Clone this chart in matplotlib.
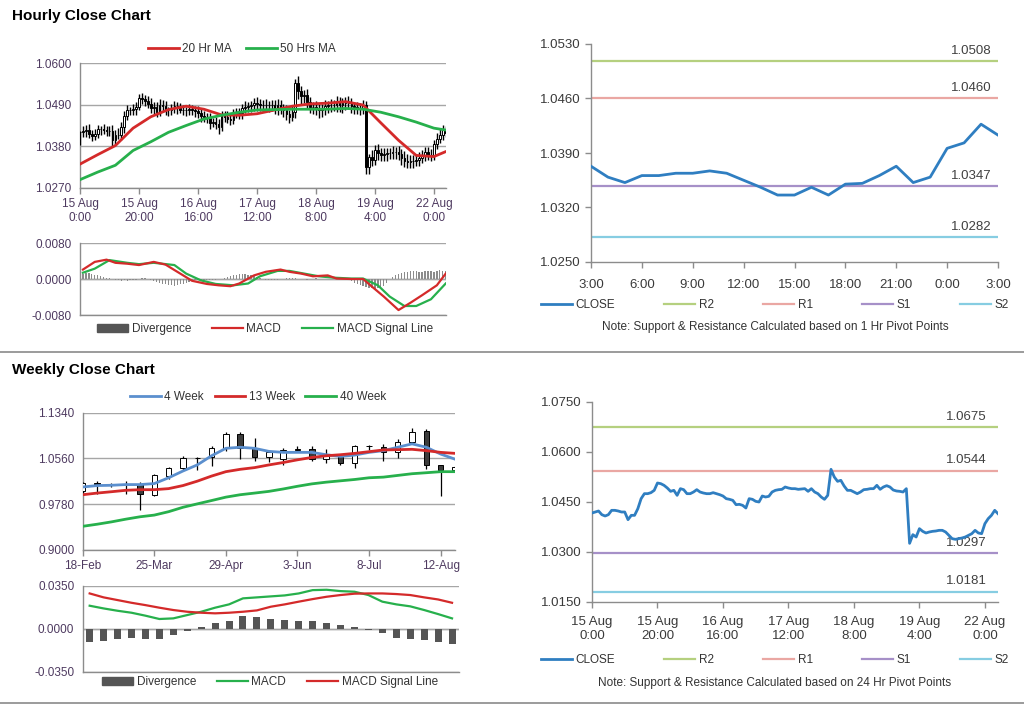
import numpy as np
import matplotlib
matplotlib.use("Agg")
import matplotlib.pyplot as plt
from matplotlib.lines import Line2D
from matplotlib.patches import Patch
from matplotlib.ticker import FormatStrFormatter

plt.rcParams['font.family'] = ['Liberation Sans', 'DejaVu Sans']

# ---------------- hourly data (15 Aug 0:00 .. 22 Aug 4:00) ----------------
hour_close = [
    1.0417, 1.0420, 1.0423, 1.0412, 1.0408, 1.0412, 1.0425, 1.0425, 1.0423, 1.0420,
    1.0420, 1.0397, 1.0410, 1.0410, 1.0430, 1.0460, 1.0475, 1.0475, 1.0478, 1.0485,
    1.0507, 1.0505, 1.0500, 1.0492, 1.0482, 1.0485, 1.0470, 1.0490, 1.0487, 1.0475,
    1.0475, 1.0480, 1.0487, 1.0480, 1.0477, 1.0475, 1.0475, 1.0478, 1.0475, 1.0472,
    1.0468, 1.0460, 1.0458, 1.0455, 1.0442, 1.0443, 1.0440, 1.0432, 1.0460, 1.0458,
    1.0452, 1.0450, 1.0468, 1.0465, 1.0467, 1.0480, 1.0485, 1.0487, 1.0488, 1.0495,
    1.0492, 1.0490, 1.0490, 1.0488, 1.0489, 1.0490, 1.0482, 1.0490, 1.0480, 1.0475,
    1.0465, 1.0458, 1.0470, 1.0548, 1.0525, 1.0512, 1.0515, 1.0498, 1.0485, 1.0485,
    1.0480, 1.0475, 1.0480, 1.0487, 1.0488, 1.0490, 1.0490, 1.0500, 1.0488, 1.0495,
    1.0499, 1.0495, 1.0486, 1.0483, 1.0482, 1.0480, 1.0490, 1.0326, 1.0352, 1.0345,
    1.0370, 1.0362, 1.0357, 1.0360, 1.0362, 1.0363, 1.0365, 1.0365, 1.0360, 1.0350,
    1.0340, 1.0338, 1.0340, 1.0342, 1.0345, 1.0350, 1.0355, 1.0365, 1.0357, 1.0355,
    1.0385, 1.0400, 1.0410, 1.0425, 1.0415,
]
# wick lengths in pips above / below the candle body
hi_pips = [
    4, 14, 12, 16, 10, 15, 12, 10, 14, 11,
    13, 16, 12, 18, 14, 12, 15, 10, 13, 11,
    12, 14, 10, 12, 15, 11, 13, 16, 12, 14,
    10, 13, 12, 11, 14, 12, 10, 13, 11, 12,
    14, 12, 13, 10, 14, 12, 15, 11, 13, 12,
    14, 12, 10, 13, 15, 12, 14, 11, 13, 12,
    14, 13, 12, 14, 11, 13, 12, 14, 12, 13,
    15, 12, 16, 10, 18, 15, 14, 16, 13, 12,
    14, 12, 13, 15, 12, 14, 13, 12, 11, 13,
    12, 14, 13, 12, 15, 13, 12, 10, 8, 18,
    14, 16, 13, 15, 14, 12, 15, 13, 16, 14,
    18, 20, 17, 16, 15, 14, 16, 12, 14, 15,
    12, 14, 15, 12, 10,
]
lo_pips = [
    34, 12, 15, 10, 14, 12, 11, 15, 10, 13,
    12, 18, 14, 10, 12, 15, 11, 13, 12, 14,
    10, 12, 14, 11, 13, 16, 12, 10, 14, 12,
    15, 11, 13, 14, 10, 12, 15, 13, 12, 14,
    12, 15, 13, 14, 16, 12, 14, 20, 12, 13,
    11, 14, 12, 10, 13, 14, 12, 15, 16, 14,
    18, 17, 20, 16, 18, 17, 16, 20, 15, 18,
    16, 17, 10, 14, 20, 22, 18, 20, 17, 19,
    18, 20, 17, 16, 19, 18, 17, 19, 18, 20,
    18, 17, 19, 18, 16, 17, 14, 20, 20, 16,
    15, 18, 16, 17, 18, 16, 17, 18, 16, 18,
    15, 14, 16, 17, 15, 16, 14, 15, 12, 14,
    12, 13, 12, 12, 10,
]
hour_ticks = ["15 Aug\n0:00", "15 Aug\n20:00", "16 Aug\n16:00", "17 Aug\n12:00",
              "18 Aug\n8:00", "19 Aug\n4:00", "22 Aug\n0:00"]

ma_idx = [0, 6, 12, 18, 24, 30, 36, 42, 48, 54, 60, 66, 72, 78, 84, 90, 96, 102, 108, 114, 120, 124]
ma20 = [1.0333, 1.0358, 1.0382, 1.0428, 1.0458, 1.0477, 1.0486, 1.0478, 1.0463, 1.0462, 1.0466,
        1.0476, 1.0486, 1.0492, 1.0494, 1.0498, 1.0489, 1.0442, 1.0396, 1.0356, 1.0353, 1.0366]
ma50 = [1.0292, 1.0312, 1.0330, 1.0369, 1.0392, 1.0417, 1.0435, 1.0452, 1.0462, 1.0470, 1.0476,
        1.0477, 1.0478, 1.0478, 1.0478, 1.0480, 1.0478, 1.0470, 1.0458, 1.0444, 1.0428, 1.0423]

macd_h_idx = [1, 5, 9, 12, 16, 20, 25, 29, 34, 38, 43, 47, 51, 54, 59, 63, 68, 71, 75, 79, 84,
              87, 92, 96, 99, 103, 108, 112, 116, 121, 124]
macd_h = [0.0021, 0.0038, 0.0043, 0.0036, 0.0034, 0.0031, 0.0038, 0.0032, 0.0012, -0.0004,
          -0.0011, -0.0014, -0.0016, -0.0010, 0.0008, 0.0016, 0.0021, 0.0016, 0.0012, 0.0006,
          0.0008, 0.0001, 0.0000, 0.0000, -0.0017, -0.0039, -0.0069, -0.0053, -0.0036, -0.0014,
          0.0012]
signal_h_idx = [1, 5, 10, 16, 20, 25, 32, 36, 41, 46, 52, 57, 61, 67, 71, 76, 81, 86, 92, 96,
                101, 105, 110, 114, 119, 124]
signal_h = [0.0014, 0.0023, 0.0042, 0.0036, 0.0033, 0.0036, 0.0031, 0.0012, -0.0003, -0.0011,
            -0.0014, -0.0010, 0.0006, 0.0018, 0.0018, 0.0012, 0.0006, 0.0003, 0.0001, 0.0001,
            -0.0014, -0.0039, -0.0060, -0.0060, -0.0045, -0.0010]
diverg_h = [
    0.0010, 0.0012, 0.0014, 0.0013, 0.0012, 0.0010, 0.0008, 0.0006, 0.0004, 0.0003, 0.0002,
    -0.0001, -0.0002, -0.0003, -0.0004, -0.0003, -0.0004, -0.0003, -0.0002, -0.0002, 0.0001,
    0.0003, 0.0002, -0.0001, -0.0003, -0.0005,
    -0.0007, -0.0009, -0.0011, -0.0012, -0.0013, -0.0014, -0.0015, -0.0014, -0.0012, -0.0010,
    -0.0008, -0.0006, -0.0004, -0.0003, -0.0003,
    -0.0002, -0.0002, -0.0003, -0.0003, -0.0002, -0.0002, -0.0001, 0.0001, 0.0003, 0.0005,
    0.0007, 0.0009, 0.0010, 0.0012, 0.0012,
    0.0011, 0.0010, 0.0008, 0.0006, 0.0004, 0.0002, 0.0000, -0.0002, -0.0003, -0.0003,
    -0.0002, -0.0002, -0.0001, 0.0001, 0.0002,
    0.0003, 0.0003, 0.0002, 0.0001, 0.0000, -0.0001, -0.0002, -0.0001, 0.0001, 0.0002,
    0.0001, 0.0000, -0.0001, -0.0001, 0.0000,
    0.0000, 0.0000, 0.0000, 0.0000, 0.0000, -0.0002, -0.0005, -0.0008, -0.0011, -0.0014,
    -0.0016, -0.0018, -0.0020, -0.0021, -0.0022,
    -0.0021, -0.0019, -0.0015, -0.0008, 0.0000, 0.0005, 0.0009, 0.0012, 0.0014, 0.0015,
    0.0016, 0.0017, 0.0017, 0.0017, 0.0016, 0.0016, 0.0017, 0.0018, 0.0017, 0.0016, 0.0018,
    0.0019, 0.0018, 0.0017,
]

# last 24 hours close (3:00 .. 3:00) with 1 Hr pivots
h24_close = [1.0373, 1.0359, 1.0352, 1.0361, 1.0361, 1.0364, 1.0364, 1.0367, 1.0364, 1.0355,
             1.0346, 1.0336, 1.0336, 1.0346, 1.0336, 1.0350, 1.0351, 1.0361, 1.0373, 1.0352,
             1.0359, 1.0396, 1.0403, 1.0427, 1.0413]
h24_ticks = ["3:00", "6:00", "9:00", "12:00", "15:00", "18:00", "21:00", "0:00", "3:00"]
pivot_1h = {"R2": 1.0508, "R1": 1.0460, "S1": 1.0347, "S2": 1.0282}
pivot_24h = {"R2": 1.0675, "R1": 1.0544, "S1": 1.0297, "S2": 1.0181}

# ---------------- weekly data (18-Feb .. 19-Aug) ----------------
wk_open = [0.9999, 1.0138, 1.0132, 1.0132, 1.0132, 0.9942, 1.0259, 1.0392, 1.0566, 1.0577,
           1.0739, 1.0970, 1.0733, 1.0577, 1.0548, 1.0710, 1.0722, 1.0548, 1.0618, 1.0479,
           1.0774, 1.0751, 1.0664, 1.0837, 1.1022, 1.0456, 1.0358]
wk_high = [1.0155, 1.0173, 1.0150, 1.0173, 1.0155, 1.0288, 1.0416, 1.0595, 1.0577, 1.0768,
           1.1011, 1.1011, 1.0913, 1.0681, 1.0733, 1.0768, 1.0768, 1.0722, 1.0635, 1.0797,
           1.0791, 1.0809, 1.0884, 1.1080, 1.1068, 1.0456, 1.0430]
wk_low = [0.9970, 0.9959, 1.0069, 0.9959, 0.9681, 0.9924, 1.0213, 1.0363, 1.0363, 1.0427,
          1.0681, 1.0548, 1.0519, 1.0502, 1.0456, 1.0664, 1.0519, 1.0491, 1.0450, 1.0392,
          1.0699, 1.0519, 1.0560, 1.0809, 1.0375, 0.9913, 1.0340]
wk_close = [1.0144, 1.0127, 1.0127, 1.0127, 0.9959, 1.0271, 1.0392, 1.0566, 1.0560, 1.0739,
            1.0982, 1.0739, 1.0577, 1.0664, 1.0710, 1.0722, 1.0548, 1.0606, 1.0479, 1.0780,
            1.0780, 1.0664, 1.0837, 1.1011, 1.0444, 1.0358, 1.0416]
ma4w = [1.0074, 1.0098, 1.0103, 1.0115, 1.0115, 1.0132, 1.0231, 1.0346, 1.0450, 1.0606,
        1.0733, 1.0751, 1.0733, 1.0681, 1.0664, 1.0664, 1.0664, 1.0624, 1.0595, 1.0618,
        1.0664, 1.0693, 1.0751, 1.0809, 1.0751, 1.0635, 1.0548]
ma13w = [0.9942, 0.9970, 0.9993, 1.0017, 1.0028, 1.0028, 1.0046, 1.0098, 1.0173, 1.0260,
         1.0335, 1.0375, 1.0404, 1.0450, 1.0491, 1.0537, 1.0577, 1.0606, 1.0624, 1.0647,
         1.0676, 1.0705, 1.0710, 1.0716, 1.0693, 1.0664, 1.0647]
ma40w = [0.9404, 0.9439, 0.9479, 0.9525, 0.9566, 0.9595, 0.9653, 0.9728, 0.9786, 0.9843,
         0.9901, 0.9942, 0.9970, 0.9999, 1.0040, 1.0086, 1.0127, 1.0156, 1.0179, 1.0202,
         1.0231, 1.0242, 1.0271, 1.0300, 1.0317, 1.0335, 1.0335]
wk_ticks = ["18-Feb", "25-Mar", "29-Apr", "3-Jun", "8-Jul", "12-Aug"]

macd_w = [0.0187, 0.0165, 0.0146, 0.0130, 0.0106, 0.0079, 0.0084, 0.0111, 0.0138, 0.0171,
          0.0198, 0.0247, 0.0255, 0.0263, 0.0271, 0.0287, 0.0314, 0.0317, 0.0306, 0.0301,
          0.0274, 0.0220, 0.0198, 0.0182, 0.0152, 0.0119, 0.0084]
signal_w = [0.0287, 0.0255, 0.0233, 0.0211, 0.0192, 0.0171, 0.0152, 0.0138, 0.0130, 0.0125,
            0.0130, 0.0138, 0.0149, 0.0179, 0.0198, 0.0220, 0.0241, 0.0260, 0.0274, 0.0285,
            0.0287, 0.0287, 0.0282, 0.0274, 0.0255, 0.0238, 0.0211]
diverg_w = [-0.0111, -0.0103, -0.0087, -0.0079, -0.0087, -0.0087, -0.0054, -0.0019, 0.0014,
            0.0046, 0.0065, 0.0100, 0.0092, 0.0081, 0.0073, 0.0065, 0.0065, 0.0049, 0.0030,
            0.0014, -0.0008, -0.0035, -0.0076, -0.0084, -0.0095, -0.0111, -0.0122]

# ---------------- styling ----------------
W, H = 1024, 706
RED = '#d42a2a'
GREEN = '#27b04c'
BLUE = '#5b8fce'
CLOSE_BLUE = '#2f7ec1'
SPINE = '#8c8c8c'
GRID = '#a6a6a6'
LEFT_TXT = '#4e3a60'
RIGHT_TXT = '#3a3a3a'
PIVOT_COLORS = {"R2": '#b5d07f', "R1": '#eaa7a3', "S1": '#a690c8', "S2": '#86cde2'}

fig = plt.figure(figsize=(W / 100, H / 100), dpi=100)


def px_axes(left, top, right, bottom):
    return fig.add_axes([left / W, 1 - bottom / H, (right - left) / W, (bottom - top) / H])


def excel_style(ax, txt_color, size):
    for s in ['top', 'right']:
        ax.spines[s].set_visible(False)
    for s in ['left', 'bottom']:
        ax.spines[s].set_color(SPINE)
        ax.spines[s].set_linewidth(1.0)
    ax.tick_params(axis='both', colors=SPINE, labelcolor=txt_color, labelsize=size,
                   direction='out', length=4, width=1)
    ax.yaxis.set_major_formatter(FormatStrFormatter('%.4f'))


def draw_candles(ax, x, o, h, l, c, width, down_color, wick_lw):
    x, o, h, l, c = map(np.asarray, (x, o, h, l, c))
    ax.vlines(x, l, h, color='black', lw=wick_lw, zorder=3)
    up = c >= o
    ax.bar(x[up], (c - o)[up], bottom=o[up], width=width, color='white',
           edgecolor='black', lw=0.7, zorder=4)
    ax.bar(x[~up], (o - c)[~up], bottom=c[~up], width=width, color=down_color,
           edgecolor='black', lw=0.7, zorder=4)


def legend_row(handles, labels, cx, cy, spacing, hl=2.6):
    fig.legend(handles, labels, loc='center', bbox_to_anchor=(cx / W, 1 - cy / H),
               ncol=len(handles), frameon=False, fontsize=8.5, handlelength=hl,
               handletextpad=0.3, columnspacing=spacing, labelcolor='#333333')


def pivot_chart(ax, x, close, pivots, label_x):
    ax.plot(x, close, color=CLOSE_BLUE, lw=2, zorder=4)
    for name, v in pivots.items():
        ax.axhline(v, color=PIVOT_COLORS[name], lw=1.6, zorder=2)
        ax.annotate(f"{v:.4f}", xy=(label_x, v), xycoords=('axes fraction', 'data'),
                    xytext=(0, 3), textcoords='offset points', ha='right', va='bottom',
                    fontsize=9.5, color='#404040', zorder=3)


# ---------------- titles & separators ----------------
fig.text(12 / W, 1 - 16 / H, "Hourly Close Chart", fontsize=11, fontweight='bold', va='center')
fig.text(12 / W, 1 - 370 / H, "Weekly Close Chart", fontsize=11, fontweight='bold', va='center')
for yy in (352, 703):
    fig.add_artist(Line2D([0, 1], [1 - yy / H, 1 - yy / H], color='#8a8a8a', lw=1.2))

# ---------------- hourly candles ----------------
ax = px_axes(80, 63, 446, 188)
excel_style(ax, LEFT_TXT, 8.5)
hc = np.array(hour_close)
ho = np.concatenate([[hc[0]], hc[:-1]])
hh = np.maximum(ho, hc) + np.array(hi_pips) * 0.0001
hl = np.minimum(ho, hc) - np.array(lo_pips) * 0.0001
hx = np.arange(len(hc))
draw_candles(ax, hx, ho, hh, hl, hc, 0.55, 'black', 1.0)
ax.plot(ma_idx, ma20, color=RED, lw=2, zorder=5)
ax.plot(ma_idx, ma50, color=GREEN, lw=2, zorder=5)
ax.set_ylim(1.0270, 1.0600)
ax.set_yticks([1.0270, 1.0380, 1.0490, 1.0600])
ax.set_xlim(0, 124.1)
ax.set_xticks(range(0, 121, 20))
ax.set_xticklabels(hour_ticks)
ax.yaxis.grid(True, color=GRID, lw=1)
ax.set_axisbelow(True)
ax.tick_params(axis='y', length=0, pad=6)
legend_row([Line2D([], [], color=RED, lw=2), Line2D([], [], color=GREEN, lw=2)],
           ["20 Hr MA", "50 Hrs MA"], 242, 49, 1.2)

# ---------------- hourly MACD ----------------
ax = px_axes(80, 243, 446, 315)
excel_style(ax, LEFT_TXT, 8.5)
ax.bar(hx, diverg_h, width=0.45, color='#8c8c8c', zorder=2)
ax.plot(macd_h_idx, macd_h, color=RED, lw=1.6, zorder=4)
ax.plot(signal_h_idx, signal_h, color=GREEN, lw=1.6, zorder=3)
ax.axhline(0, color=GRID, lw=1, zorder=1)
ax.set_ylim(-0.008, 0.008)
ax.set_yticks([-0.008, 0.0, 0.008])
ax.set_xlim(0, 124.1)
ax.set_xticks([])
ax.yaxis.grid(True, color=GRID, lw=1)
ax.tick_params(axis='y', length=0, pad=6)
legend_row([Patch(color='#555555'), Line2D([], [], color=RED, lw=1.6),
            Line2D([], [], color=GREEN, lw=1.6)],
           ["Divergence", "MACD", "MACD Signal Line"], 265, 329, 1.8)

# ---------------- last 24 hours with 1 Hr pivots ----------------
ax = px_axes(591, 44, 998, 262)
excel_style(ax, RIGHT_TXT, 9.5)
pivot_chart(ax, np.arange(len(h24_close)), h24_close, pivot_1h, 0.985)
ax.set_ylim(1.0250, 1.0530)
ax.set_yticks([1.0250, 1.0320, 1.0390, 1.0460, 1.0530])
ax.set_xlim(0, 24)
ax.set_xticks(range(0, 25, 3))
ax.set_xticklabels(h24_ticks)
ax.tick_params(axis='x', pad=8)
pv_handles = [Line2D([], [], color=CLOSE_BLUE, lw=2)] + \
             [Line2D([], [], color=PIVOT_COLORS[k], lw=1.6) for k in pivot_1h]
legend_row(pv_handles, ["CLOSE"] + list(pivot_1h), 775, 305, 4.2)
fig.text(775 / W, 1 - 327 / H, "Note: Support & Resistance Calculated based on 1 Hr Pivot Points",
         ha='center', va='center', fontsize=8.5, color='#333333')

# ---------------- weekly candles ----------------
ax = px_axes(82.7, 412.7, 455, 550)
excel_style(ax, LEFT_TXT, 8.5)
wx = np.arange(len(wk_close))
draw_candles(ax, wx, wk_open, wk_high, wk_low, wk_close, 0.38, '#3c3c3c', 0.9)
ax.plot(wx, ma4w, color=BLUE, lw=2, zorder=5)
ax.plot(wx, ma13w, color=RED, lw=2, zorder=5)
ax.plot(wx, ma40w, color=GREEN, lw=2, zorder=5)
ax.set_ylim(0.9000, 1.1340)
ax.set_yticks([0.9000, 0.9780, 1.0560, 1.1340])
ax.set_xlim(0, 26.0)
ax.set_xticks(range(0, 26, 5))
ax.set_xticklabels(wk_ticks)
ax.yaxis.grid(True, color=GRID, lw=1)
ax.set_axisbelow(True)
ax.tick_params(axis='y', length=0, pad=6)
legend_row([Line2D([], [], color=BLUE, lw=2), Line2D([], [], color=RED, lw=2),
            Line2D([], [], color=GREEN, lw=2)],
           ["4 Week", "13 Week", "40 Week"], 258, 397, 0.9)

# ---------------- weekly MACD ----------------
ax = px_axes(82.7, 585.7, 459, 671.7)
excel_style(ax, LEFT_TXT, 8.5)
ax.bar(wx, diverg_w, width=0.5, color='#555555', zorder=2)
ax.plot(wx, macd_w, color=GREEN, lw=1.6, zorder=4)
ax.plot(wx, signal_w, color=RED, lw=1.6, zorder=4)
ax.axhline(0, color=GRID, lw=1, zorder=1)
ax.set_ylim(-0.035, 0.035)
ax.set_yticks([-0.035, 0.0, 0.035])
ax.set_xlim(-0.5, 26.5)
ax.set_xticks([])
ax.yaxis.grid(True, color=GRID, lw=1)
ax.tick_params(axis='y', length=0, pad=6)
legend_row([Patch(color='#555555'), Line2D([], [], color=GREEN, lw=1.6),
            Line2D([], [], color=RED, lw=1.6)],
           ["Divergence", "MACD", "MACD Signal Line"], 270, 682, 1.8)

# ---------------- hourly close with 24 Hr pivots ----------------
ax = px_axes(592, 402, 998, 602)
excel_style(ax, RIGHT_TXT, 9.5)
pivot_chart(ax, hx, hour_close, pivot_24h, 0.973)
ax.set_ylim(1.0150, 1.0750)
ax.set_yticks([1.0150, 1.0300, 1.0450, 1.0600, 1.0750])
ax.set_xlim(0, 124)
ax.set_xticks(range(0, 121, 20))
ax.set_xticklabels(hour_ticks)
ax.tick_params(axis='x', pad=6)
pv_handles = [Line2D([], [], color=CLOSE_BLUE, lw=2)] + \
             [Line2D([], [], color=PIVOT_COLORS[k], lw=1.6) for k in pivot_24h]
legend_row(pv_handles, ["CLOSE"] + list(pivot_24h), 775, 660, 4.2)
fig.text(775 / W, 1 - 683 / H, "Note: Support & Resistance Calculated based on 24 Hr Pivot Points",
         ha='center', va='center', fontsize=8.5, color='#333333')

fig.savefig("out.png", dpi=100)
